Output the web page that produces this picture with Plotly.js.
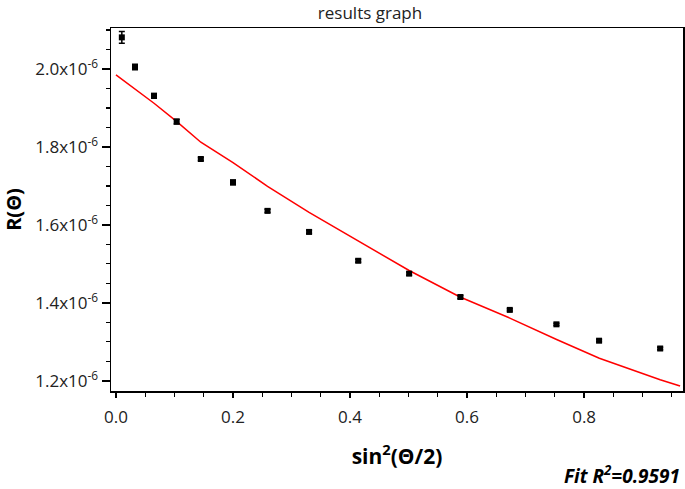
<!DOCTYPE html>
<html>
<head>
<meta charset="utf-8">
<script src="https://cdn.plot.ly/plotly-3.0.1.min.js"></script>
<style>html,body{margin:0;padding:0;background:#fff;}#chart{width:685px;height:489px;}</style>
</head>
<body>
<div id="chart"></div>
<script>
// Measured data: x = sin^2(theta/2), y = R(theta)
var xData = [0.010, 0.0325, 0.065, 0.1037, 0.145, 0.200, 0.259, 0.330, 0.414, 0.501, 0.5886, 0.673, 0.7527, 0.8256, 0.930];
var yData = [2.081e-6, 2.005e-6, 1.931e-6, 1.865e-6, 1.769e-6, 1.709e-6, 1.636e-6, 1.582e-6, 1.508e-6, 1.475e-6, 1.415e-6, 1.382e-6, 1.345e-6, 1.303e-6, 1.283e-6];
var yErr  = [0.015e-6, 0.007e-6, 0.006e-6, 0.006e-6, 0.004e-6, 0.006e-6, 0.004e-6, 0.004e-6, 0.004e-6, 0.004e-6, 0.004e-6, 0.003e-6, 0.003e-6, 0.003e-6, 0.003e-6];

// Fit curve
var xFit = [0.0, 0.0325, 0.065, 0.104, 0.145, 0.200, 0.259, 0.330, 0.414, 0.501, 0.588, 0.673, 0.753, 0.826, 0.930, 0.964];
var yFit = [1.985e-6, 1.948e-6, 1.912e-6, 1.865e-6, 1.812e-6, 1.760e-6, 1.699e-6, 1.632e-6, 1.559e-6, 1.483e-6, 1.415e-6, 1.361e-6, 1.306e-6, 1.258e-6, 1.203e-6, 1.187e-6];

// Tick labels
var yTickVals = [1.2e-6, 1.4e-6, 1.6e-6, 1.8e-6, 2.0e-6];
var yTickText = ['1.2x10<sup>-6</sup>', '1.4x10<sup>-6</sup>', '1.6x10<sup>-6</sup>', '1.8x10<sup>-6</sup>', '2.0x10<sup>-6</sup>'];
var xTickVals = [0.0, 0.2, 0.4, 0.6, 0.8];
var xTickText = ['0.0', '0.2', '0.4', '0.6', '0.8'];

var FONT = 'Open Sans, Noto Sans, DejaVu Sans, sans-serif';

var traces = [
  {
    x: xFit, y: yFit, type: 'scatter', mode: 'lines',
    line: {color: '#ff0000', width: 1.5},
    hoverinfo: 'skip', showlegend: false
  },
  {
    x: xData, y: yData, type: 'scatter', mode: 'markers',
    marker: {symbol: 'square', size: 6, color: '#000000'},
    error_y: {type: 'data', array: yErr, visible: true, color: '#000000', thickness: 1.5, width: 3},
    showlegend: false
  }
];

var layout = {
  width: 685, height: 489,
  margin: {l: 111, r: 2, t: 28, b: 98},
  paper_bgcolor: '#ffffff', plot_bgcolor: '#ffffff',
  font: {family: FONT, color: '#222222', size: 17},
  showlegend: false,
  title: {
    text: 'results graph',
    x: 370 / 685, xref: 'container', xanchor: 'center',
    y: 1 - 13 / 489, yref: 'container', yanchor: 'middle',
    font: {family: FONT, size: 17, color: '#222222'}
  },
  xaxis: {
    range: [-0.0085, 0.969],
    showgrid: false, zeroline: false,
    showline: true, mirror: true, linecolor: '#000000', linewidth: 1.5,
    ticks: 'outside', ticklen: 5, tickwidth: 1.5, tickcolor: '#000000',
    ticklabelstandoff: 5,
    tickvals: xTickVals, ticktext: xTickText,
    tickfont: {family: FONT, size: 17, color: '#222222'},
    minor: {dtick: 0.05, tick0: 0, ticks: 'outside', ticklen: 4, tickwidth: 1.2, tickcolor: '#000000', showgrid: false},
    title: {
      text: '<b>sin<sup>2</sup>(Θ/2)</b>',
      standoff: 22,
      font: {family: FONT, size: 21, color: '#000000'}
    }
  },
  yaxis: {
    range: [1.174e-6, 2.105e-6],
    showgrid: false, zeroline: false,
    showline: true, mirror: true, linecolor: '#000000', linewidth: 1.5,
    ticks: 'outside', ticklen: 8, tickwidth: 1.5, tickcolor: '#000000',
    tickvals: yTickVals, ticktext: yTickText,
    tickfont: {family: FONT, size: 17, color: '#222222'},
    minor: {dtick: 0.05e-6, tick0: 0, ticks: 'outside', ticklen: 4, tickwidth: 1.2, tickcolor: '#000000', showgrid: false},
    title: {
      text: '<b>R(Θ)</b>',
      standoff: 19,
      font: {family: FONT, size: 20, color: '#000000'}
    }
  },
  annotations: [
    {
      text: '<b><i>Fit R<sup>2</sup>=0.9591</i></b>',
      xref: 'paper', yref: 'paper',
      x: 0.998, xanchor: 'right',
      y: (391 - 475) / 363, yanchor: 'middle',
      showarrow: false,
      font: {family: FONT, size: 19, color: '#000000'}
    }
  ]
};

Plotly.newPlot('chart', traces, layout, {displayModeBar: false, staticPlot: true});
</script>
</body>
</html>
